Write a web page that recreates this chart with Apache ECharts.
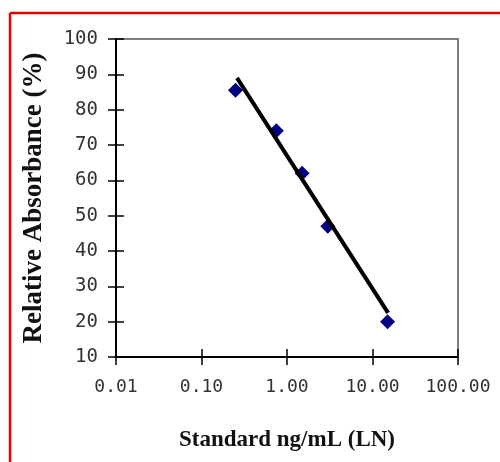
<!DOCTYPE html>
<html>
<head>
<meta charset="utf-8">
<script src="https://cdn.jsdelivr.net/npm/echarts@6/dist/echarts.min.js"></script>
<style>
html,body{margin:0;padding:0;background:#fff;}
#chart{width:500px;height:462px;}
</style>
</head>
<body>
<div id="chart"></div>
<script>
// Standards (ng/mL) and relative absorbance (%)
const concentrations = [0.25, 0.75, 1.5, 3, 15];
const absorbance = [85.5, 74, 62, 47, 20];
// Trend line end points
const trendX = [0.26, 15.2];
const trendY = [89, 22.5];
const xTicks = [0.01, 0.1, 1, 10, 100];
const yTicks = [10, 20, 30, 40, 50, 60, 70, 80, 90, 100];

const chart = echarts.init(document.getElementById('chart'), null, {renderer: 'canvas'});

const labelFont = "'DejaVu Sans Mono', 'Liberation Mono', monospace";
const titleFont = "'Liberation Serif', 'DejaVu Serif', serif";

const option = {
  animation: false,
  backgroundColor: '#fff',
  grid: {left: 116, top: 39, right: 42, bottom: 105, show: true, borderColor: '#555', borderWidth: 1.5},
  xAxis: [{
    type: 'log', logBase: 10, min: xTicks[0], max: xTicks[xTicks.length - 1],
    name: 'Standard ng/mL (LN)', nameLocation: 'middle', nameGap: 72,
    nameTextStyle: {fontFamily: titleFont, fontWeight: 'bold', fontSize: 23, color: '#111'},
    axisLine: {show: true, lineStyle: {color: '#000', width: 2}},
    axisTick: {show: true, length: 8, lineStyle: {color: '#000', width: 1.5}},
    axisLabel: {margin: 21, fontFamily: labelFont, fontSize: 18, color: '#333',
      formatter: v => Number(v).toFixed(2)},
    splitLine: {show: false}
  }, {
    type: 'log', logBase: 10, min: xTicks[0], max: xTicks[xTicks.length - 1], position: 'bottom',
    axisLine: {show: false},
    axisTick: {show: true, inside: true, length: 8, lineStyle: {color: '#000', width: 1.5}},
    axisLabel: {show: false}, splitLine: {show: false}
  }],
  yAxis: [{
    type: 'value', min: yTicks[0], max: yTicks[yTicks.length - 1], interval: 10,
    name: 'Relative Absorbance (%)', nameLocation: 'middle', nameGap: 68,
    nameTextStyle: {fontFamily: titleFont, fontWeight: 'bold', fontSize: 27, color: '#111'},
    axisLine: {show: true, lineStyle: {color: '#000', width: 2}},
    axisTick: {show: true, length: 8, lineStyle: {color: '#000', width: 1.5}},
    axisLabel: {margin: 18, fontFamily: labelFont, fontSize: 19, color: '#333'},
    splitLine: {show: false}
  }, {
    type: 'value', min: yTicks[0], max: yTicks[yTicks.length - 1], interval: 10, position: 'left',
    axisLine: {show: false},
    axisTick: {show: true, inside: true, length: 8, lineStyle: {color: '#000', width: 1.5}},
    axisLabel: {show: false}, splitLine: {show: false}
  }],
  series: [{
    type: 'scatter',
    symbol: 'diamond', symbolSize: 15,
    itemStyle: {color: '#000080', opacity: 1},
    data: concentrations.map((c, i) => [c, absorbance[i]]),
    z: 2
  }, {
    type: 'line',
    symbol: 'none',
    lineStyle: {color: '#000', width: 4},
    data: trendX.map((c, i) => [c, trendY[i]]),
    z: 3
  }],
  graphic: [
    {type: 'line', shape: {x1: 10, y1: 13, x2: 500, y2: 13}, style: {stroke: '#e60000', lineWidth: 2.5}},
    {type: 'line', shape: {x1: 10, y1: 13, x2: 10, y2: 462}, style: {stroke: '#e60000', lineWidth: 2.5}}
  ]
};
chart.setOption(option);
</script>
</body>
</html>
